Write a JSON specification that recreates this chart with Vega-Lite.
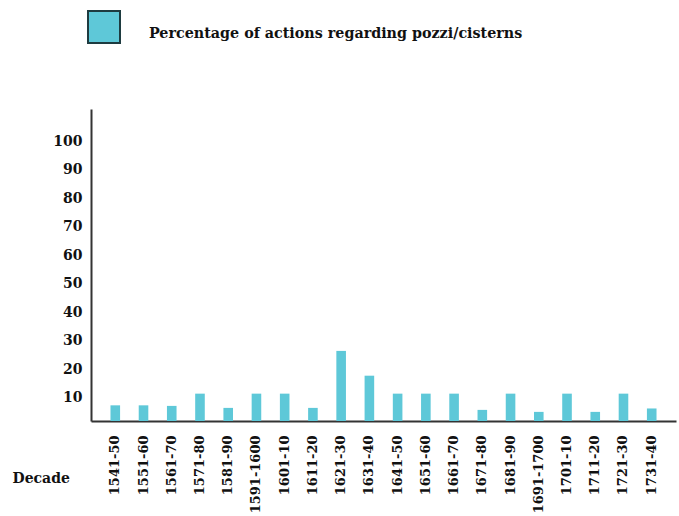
{
  "$schema": "https://vega.github.io/schema/vega-lite/v6.json",
  "width": 585,
  "height": 312,
  "autosize": {"type": "none"},
  "padding": {"left": 91, "top": 109, "right": 3, "bottom": 95},
  "background": "white",
  "config": {"view": {"stroke": null}},
  "data": {
    "values": [
      {"decade": "1541-50", "pct": 5.5, "series": "Percentage of actions regarding pozzi/cisterns"},
      {"decade": "1551-60", "pct": 5.5, "series": "Percentage of actions regarding pozzi/cisterns"},
      {"decade": "1561-70", "pct": 5.3, "series": "Percentage of actions regarding pozzi/cisterns"},
      {"decade": "1571-80", "pct": 9.6, "series": "Percentage of actions regarding pozzi/cisterns"},
      {"decade": "1581-90", "pct": 4.6, "series": "Percentage of actions regarding pozzi/cisterns"},
      {"decade": "1591-1600", "pct": 9.6, "series": "Percentage of actions regarding pozzi/cisterns"},
      {"decade": "1601-10", "pct": 9.6, "series": "Percentage of actions regarding pozzi/cisterns"},
      {"decade": "1611-20", "pct": 4.6, "series": "Percentage of actions regarding pozzi/cisterns"},
      {"decade": "1621-30", "pct": 24.6, "series": "Percentage of actions regarding pozzi/cisterns"},
      {"decade": "1631-40", "pct": 15.9, "series": "Percentage of actions regarding pozzi/cisterns"},
      {"decade": "1641-50", "pct": 9.6, "series": "Percentage of actions regarding pozzi/cisterns"},
      {"decade": "1651-60", "pct": 9.6, "series": "Percentage of actions regarding pozzi/cisterns"},
      {"decade": "1661-70", "pct": 9.6, "series": "Percentage of actions regarding pozzi/cisterns"},
      {"decade": "1671-80", "pct": 3.9, "series": "Percentage of actions regarding pozzi/cisterns"},
      {"decade": "1681-90", "pct": 9.6, "series": "Percentage of actions regarding pozzi/cisterns"},
      {"decade": "1691-1700", "pct": 3.2, "series": "Percentage of actions regarding pozzi/cisterns"},
      {"decade": "1701-10", "pct": 9.6, "series": "Percentage of actions regarding pozzi/cisterns"},
      {"decade": "1711-20", "pct": 3.2, "series": "Percentage of actions regarding pozzi/cisterns"},
      {"decade": "1721-30", "pct": 9.6, "series": "Percentage of actions regarding pozzi/cisterns"},
      {"decade": "1731-40", "pct": 4.4, "series": "Percentage of actions regarding pozzi/cisterns"}
    ]
  },
  "mark": {"type": "bar"},
  "encoding": {
    "x": {
      "field": "decade",
      "type": "nominal",
      "sort": null,
      "scale": {"paddingInner": 0.66, "paddingOuter": 0.69},
      "axis": {
        "title": "Decade",
        "titleFont": "DejaVu Serif",
        "titleFontWeight": "bold",
        "titleFontSize": 14,
        "titleColor": "#111",
        "titleAlign": "left",
        "titleBaseline": "middle",
        "titleX": -79,
        "titleY": 57,
        "labelAngle": -90,
        "labelFont": "DejaVu Serif",
        "labelFontWeight": "bold",
        "labelFontSize": 13,
        "labelColor": "#111",
        "labelPadding": 14,
        "labelLimit": 0,
        "ticks": false,
        "domainColor": "#333",
        "domainWidth": 2
      }
    },
    "y": {
      "field": "pct",
      "type": "quantitative",
      "scale": {"domain": [0, 109.5], "nice": false},
      "axis": {
        "title": null,
        "values": [10, 20, 30, 40, 50, 60, 70, 80, 90, 100],
        "labelFont": "DejaVu Serif",
        "labelFontWeight": "bold",
        "labelFontSize": 14,
        "labelColor": "#111",
        "labelPadding": 9,
        "labelOffset": 5,
        "ticks": false,
        "grid": false,
        "domainColor": "#333",
        "domainWidth": 2
      }
    },
    "color": {
      "field": "series",
      "type": "nominal",
      "scale": {"range": ["#5EC8D8"]},
      "legend": {
        "title": null,
        "orient": "none",
        "legendX": -4,
        "legendY": -99,
        "symbolType": "square",
        "symbolSize": 1024,
        "symbolStrokeColor": "#1E3B40",
        "symbolStrokeWidth": 2,
        "symbolOpacity": 1,
        "labelFont": "DejaVu Serif",
        "labelFontWeight": "bold",
        "labelFontSize": 14.3,
        "labelColor": "#111",
        "labelBaseline": "top",
        "labelOffset": 28,
        "labelLimit": 0,
        "padding": 0
      }
    }
  }
}
